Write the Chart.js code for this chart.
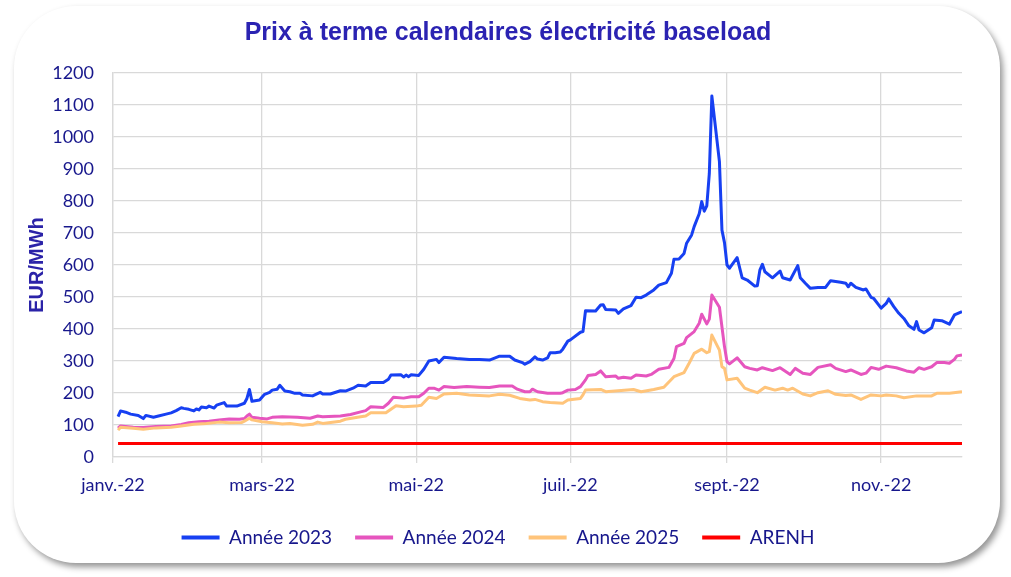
<!DOCTYPE html>
<html><head><meta charset="utf-8">
<script src="https://cdn.jsdelivr.net/npm/chart.js@4.4.1/dist/chart.umd.min.js"></script>
<style>
html,body{margin:0;padding:0;background:#fff;}
#wrap{position:relative;width:1011px;height:577px;overflow:hidden;}
#card{position:absolute;left:14px;top:6px;width:986px;height:557px;border-radius:62px;background:#fff;box-shadow:3px 4px 6px rgba(0,0,0,0.42);}
canvas{position:absolute;left:0;top:0;}
</style></head><body>
<div id="wrap"><div id="card"></div><canvas id="c" width="1011" height="577"></canvas></div>
<script>
const chartTitle = 'Prix à terme calendaires électricité baseload';
const yAxisTitle = 'EUR/MWh';
const seriesNames = ['Année 2023', 'Année 2024', 'Année 2025', 'ARENH'];
// x = day of year 2022 (0 = 1 janv.)
const monthTickDays = [0, 59, 120, 181, 243, 304];
const monthTickLabels = ['janv.-22', 'mars-22', 'mai-22', 'juil.-22', 'sept.-22', 'nov.-22'];

const days2023 = [2,3,5,7,10,12,13,16,18,21,23,25,27,28,30,32,33,34,35,37,38,40,41,44,45,49,52,53,54,55,58,60,62,63,65,66,68,70,72,74,75,79,82,83,86,90,92,95,97,100,102,107,109,110,114,115,116,117,118,121,123,125,128,129,131,136,141,145,149,153,157,159,162,163,165,167,168,170,172,173,175,177,178,180,181,185,186,187,191,193,194,195,199,200,202,205,207,209,211,214,216,219,221,222,224,226,227,229,230,232,233,234,235,236,237,240,241,242,243,244,247,249,251,254,255,256,257,258,261,264,265,268,271,272,274,276,279,282,284,288,290,291,292,294,297,298,300,301,304,306,307,309,311,313,315,317,318,319,321,324,325,328,331,333,336];
const values2023 = [126,144,140,134,130,120,130,124,128,134,138,145,154,152,149,144,150,147,156,154,159,153,162,170,159,159,168,183,211,174,178,196,202,209,212,224,206,204,199,199,194,191,202,197,197,207,206,215,224,222,233,233,243,256,257,250,256,251,257,255,274,300,305,295,312,308,305,305,303,315,315,303,295,290,298,313,306,303,310,326,326,328,337,362,366,390,392,457,456,475,476,461,459,449,463,473,499,498,506,522,537,545,574,618,619,636,668,694,720,760,798,768,785,886,1128,923,709,670,600,590,623,560,553,534,535,584,602,579,560,581,560,553,598,560,543,527,530,530,551,546,543,532,543,530,522,525,499,496,465,480,494,470,449,433,410,399,423,397,388,404,428,426,415,444,454];

const days2024 = [2,3,8,12,17,23,27,30,34,38,42,46,50,52,53,54,55,58,61,63,67,73,78,81,83,90,94,98,100,102,107,109,111,115,118,121,123,125,127,129,131,135,140,145,149,153,158,160,163,165,166,168,172,177,178,180,183,185,187,188,191,193,195,199,200,202,205,207,211,213,216,220,222,223,226,227,230,232,233,235,236,237,240,242,243,244,247,250,252,255,257,261,264,268,270,273,276,279,284,286,290,292,296,298,300,303,306,310,314,317,319,321,324,326,329,331,333,334,336];
const values2024 = [90,97,93,92,95,97,102,107,110,112,116,119,118,120,128,134,124,121,119,124,126,124,121,128,126,128,133,141,145,157,155,168,187,184,188,188,199,215,215,209,220,217,220,218,217,222,222,212,204,204,212,204,199,199,201,209,211,220,241,255,258,269,251,253,246,249,246,256,253,258,274,280,308,345,355,373,392,418,446,416,431,506,468,345,298,291,310,282,277,272,279,270,279,258,277,262,258,280,288,277,267,272,258,262,280,274,284,279,269,265,279,274,282,295,295,293,305,316,319];

const days2025 = [2,3,8,12,17,23,27,32,37,42,46,51,52,54,55,59,63,67,70,75,79,81,83,90,92,98,100,102,108,110,112,115,120,122,125,128,131,136,141,149,153,157,161,165,167,170,173,178,180,185,186,187,193,195,206,209,214,218,222,226,228,230,233,235,236,237,240,241,242,243,247,250,252,255,258,262,265,267,269,273,276,279,283,286,290,292,296,300,304,306,310,313,318,324,326,331,336];
const values2025 = [84,93,90,87,91,93,97,102,105,109,107,108,112,121,116,110,107,103,105,99,102,109,105,112,118,126,128,138,138,149,160,157,159,162,187,183,197,199,194,191,196,193,183,178,180,173,170,168,178,183,194,209,211,204,211,204,211,218,251,264,293,324,337,326,329,381,334,282,277,241,246,215,209,201,218,209,215,209,215,197,191,201,207,196,192,194,180,194,191,194,191,185,191,191,199,199,204];

const daysArenh = [2, 336];
const valuesArenh = [42, 42];

const seriesColors = ['#1740F2', '#E655BE', '#FFC47A', '#FF0000'];

function toPoints(xs, ys) { return xs.map((x, i) => ({ x: x, y: ys[i] })); }

const gridColor = '#D9D9D9';
const tickColor = '#17178C';
const tickFont = { family: 'Lato', size: 18 };
const legendFont = { family: 'Lato', size: 19 };

const titlePlugin = {
  id: 'cardTitle',
  afterDraw(chart) {
    const c = chart.ctx;
    c.save();
    c.font = 'bold 25px "Liberation Sans", Arial, sans-serif';
    c.fillStyle = '#2B23B2';
    c.textAlign = 'center';
    c.textBaseline = 'middle';
    c.fillText(chartTitle, 508, 33);
    c.restore();
  }
};

const mk = (i, xs, ys, order) => ({
  label: seriesNames[i],
  data: toPoints(xs, ys),
  borderColor: seriesColors[i],
  backgroundColor: seriesColors[i],
  borderWidth: 3,
  pointRadius: 0,
  tension: 0,
  borderJoinStyle: 'round',
  order: order
});

new Chart(document.getElementById('c'), {
  type: 'line',
  data: {
    datasets: [
      mk(0, days2023, values2023, 4),
      mk(1, days2024, values2024, 3),
      mk(2, days2025, values2025, 2),
      mk(3, daysArenh, valuesArenh, 1)
    ]
  },
  plugins: [titlePlugin],
  options: {
    responsive: false,
    animation: false,
    layout: { padding: { top: 73, left: 34, right: 49, bottom: 20 } },
    plugins: {
      title: { display: false },
      tooltip: { enabled: false },
      legend: {
        position: 'bottom',
        labels: {
          boxWidth: 38, boxHeight: 4, padding: 23,
          color: tickColor, font: legendFont,
          generateLabels: chart => Chart.defaults.plugins.legend.labels.generateLabels(chart).map(l => Object.assign(l, { lineWidth: 0 })),
          sort: (a, b) => a.datasetIndex - b.datasetIndex
        }
      }
    },
    scales: {
      x: {
        type: 'linear', min: 0, max: 336,
        afterBuildTicks: s => { s.ticks = monthTickDays.map(v => ({ value: v })); },
        afterFit: s => { s.height = 48; },
        ticks: {
          autoSkip: false, maxRotation: 0, padding: 11,
          color: tickColor, font: tickFont,
          callback: v => monthTickLabels[monthTickDays.indexOf(v)]
        },
        grid: { color: gridColor, lineWidth: 1.3, tickLength: 6 },
        border: { color: gridColor, width: 1.3 }
      },
      y: {
        min: 0, max: 1200,
        afterFit: s => { s.width = 79; },
        ticks: { stepSize: 100, padding: 19, color: tickColor, font: tickFont, callback: v => String(v) },
        grid: { color: gridColor, lineWidth: 1.3, drawTicks: false },
        border: { color: gridColor, width: 1.3 },
        title: {
          display: true, text: yAxisTitle, color: '#2B23A8',
          font: { family: '"Liberation Sans", Arial, sans-serif', size: 20, weight: 'bold' },
          padding: { top: -9, bottom: 0 }
        }
      }
    }
  }
});
</script>
</body></html>
